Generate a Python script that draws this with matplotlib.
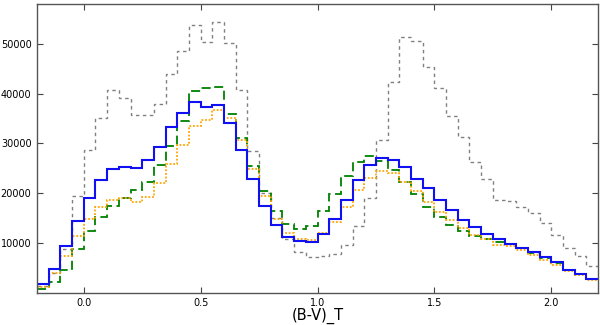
import numpy as np
import matplotlib
matplotlib.use("Agg")
import matplotlib.pyplot as plt

# bin edges of the (B-V)_T histograms
edges = np.round(np.arange(-0.2, 2.2001, 0.05), 3)

blue = [1800, 4800, 9300, 14500, 19000, 22700, 24900, 25300, 25100, 26700,
        29300, 33200, 36200, 38300, 37300, 37700, 34100, 28700, 22900, 17500,
        13600, 11100, 10400, 10100, 11800, 14900, 18700, 22600, 25600, 27100,
        26700, 25200, 22900, 21000, 18600, 16600, 14700, 13100, 11700, 10800,
        9800, 9000, 8200, 7200, 6200, 4600, 3800, 2800]

orange = [1200, 4000, 7300, 11300, 14900, 17300, 18600, 19000, 18300, 19300,
          22000, 25900, 29700, 33400, 34600, 36800, 35100, 30600, 24900, 19400,
          14800, 12000, 10700, 10500, 12000, 14300, 17300, 20600, 23100, 24400,
          24100, 22200, 20400, 18200, 16300, 14700, 12900, 11600, 10800, 9600,
          9300, 8500, 7600, 6600, 5600, 4300, 3500, 2500]

green = [700, 2100, 4600, 8800, 12300, 15300, 17500, 19100, 20700, 22200,
         25600, 29400, 34400, 40600, 41100, 41300, 36000, 31000, 25500, 20500,
         16500, 13800, 12800, 13400, 16500, 19800, 23500, 26200, 27400, 26500,
         24700, 22200, 19900, 17200, 15300, 13700, 12400, 11300, 10700, 10100,
         9700, 9000, 8000, 7000, 6000, 4500, 3700, 2700]

grey = [1300, 3900, 8800, 19400, 28600, 35000, 40700, 39100, 35600, 35600,
        37900, 43900, 48600, 53700, 50400, 54400, 50100, 40800, 28400, 20000,
        15000, 10800, 8200, 7200, 7300, 7800, 9600, 13300, 19100, 30600,
        42300, 51300, 50500, 45400, 41200, 35500, 31300, 26200, 22900, 18700,
        18400, 17300, 16100, 14000, 11500, 8900, 7300, 5300]

fig = plt.figure(figsize=(6, 3.25), dpi=100)
ax = fig.add_axes([0.0617, 0.0994, 0.935, 0.8883])

ax.stairs(grey, edges, baseline=None, color="grey", lw=1.0,
          linestyle=(0, (2.5, 2.5)))
ax.stairs(green, edges, baseline=None, color="green", lw=1.3,
          linestyle=(0, (5, 2.5)))
ax.stairs(orange, edges, baseline=None, color="orange", lw=1.3,
          linestyle=(0, (1, 1)))
ax.stairs(blue, edges, baseline=None, color="#1010f0", lw=1.5)

ax.set_xlim(-0.2, 2.2)
ax.set_ylim(0, 58000)
ax.set_xticks([0.0, 0.5, 1.0, 1.5, 2.0])
ax.set_xticklabels(["0.0", "0.5", "1.0", "1.5", "2.0"])
ax.set_yticks([10000, 20000, 30000, 40000, 50000])
ax.tick_params(direction="in", top=True, right=True, labelsize=7,
               length=4, width=0.8, color="#444444", pad=4)
for s in ax.spines.values():
    s.set_color("#555555")
    s.set_linewidth(1.0)

ax.set_xlabel("(B-V)_T", fontsize=10.5, labelpad=0)

fig.savefig("out.png", dpi=100)
